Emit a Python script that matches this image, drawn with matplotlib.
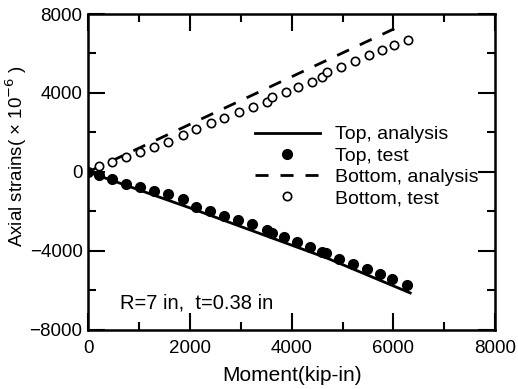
import matplotlib.pyplot as plt
import numpy as np

plt.rcParams['font.family'] = ['Liberation Sans', 'DejaVu Sans']

# analysis curves
top_ana_x = [0, 2000, 4700, 6330]
top_ana_y = [0, -1820, -4370, -6130]
bot_ana_x = [0, 6030]
bot_ana_y = [0, 7270]

# test points
top_test_x = [0, 216, 478, 747, 1022, 1303, 1565, 1860, 2122, 2397, 2672, 2954,
              3228, 3510, 3608, 3857, 4113, 4361, 4590, 4669, 4937, 5212, 5488,
              5737, 5980, 6261]
top_test_y = [0, -152, -370, -590, -775, -960, -1130, -1380, -1755, -1975, -2210,
              -2430, -2633, -2937, -3072, -3308, -3527, -3780, -4033, -4118,
              -4405, -4675, -4928, -5165, -5418, -5738]
bot_test_x = [216, 478, 747, 1022, 1303, 1578, 1860, 2122, 2410, 2678, 2967, 3235,
              3523, 3621, 3884, 4132, 4394, 4590, 4689, 4964, 5245, 5521, 5770,
              6018, 6293]
bot_test_y = [320, 522, 775, 1028, 1281, 1534, 1873, 2160, 2496, 2750, 3022, 3275,
              3560, 3782, 4066, 4288, 4572, 4794, 5048, 5332, 5636, 5924, 6177,
              6430, 6684]

fig = plt.figure(figsize=(5.18, 3.89), dpi=100)
ax = fig.add_axes([0.170, 0.152, 0.786, 0.812])

ax.plot(top_ana_x, top_ana_y, 'k-', lw=2, label='Top, analysis')
ax.plot(top_test_x, top_test_y, 'ko', ms=7, ls='none', label='Top, test')
ax.plot(bot_ana_x, bot_ana_y, 'k--', lw=2, dashes=(4.7, 4.3), label='Bottom, analysis')
ax.plot(bot_test_x, bot_test_y, 'o', mfc='white', mec='k', mew=1.2, ms=6,
        ls='none', label='Bottom, test')

ax.set_xlim(0, 8000)
ax.set_ylim(-8000, 8000)
ax.set_xticks(np.arange(0, 8001, 2000))
ax.set_xticks(np.arange(1000, 8000, 2000), minor=True)
ax.set_yticks(np.arange(-8000, 8001, 4000))
ax.set_yticks(np.arange(-6000, 8000, 4000), minor=True)
ax.tick_params(which='both', direction='in', top=True, right=True, width=1.5,
               labelsize=13.5)
ax.tick_params(which='major', length=12)
ax.tick_params(which='minor', length=6)
ax.tick_params(axis='x', pad=7)
ax.tick_params(axis='y', pad=4)
for s in ax.spines.values():
    s.set_linewidth(1.8)

ax.set_xlabel('Moment(kip-in)', fontsize=15, labelpad=7)
ax.set_ylabel('Axial strains( \u00d7 10$^{-6}$ )', fontsize=13.5)
ax.yaxis.set_label_coords(-0.145, 0.55)

ax.text(629, -6633, 'R=7 in,  t=0.38 in', fontsize=14.5, va='center', ha='left')

ax.legend(loc='upper left', bbox_to_anchor=(0.385, 0.677), frameon=False,
          fontsize=14, handlelength=3.35, labelspacing=0.19, borderpad=0,
          handletextpad=0.77)

fig.savefig('out.png', dpi=100)
